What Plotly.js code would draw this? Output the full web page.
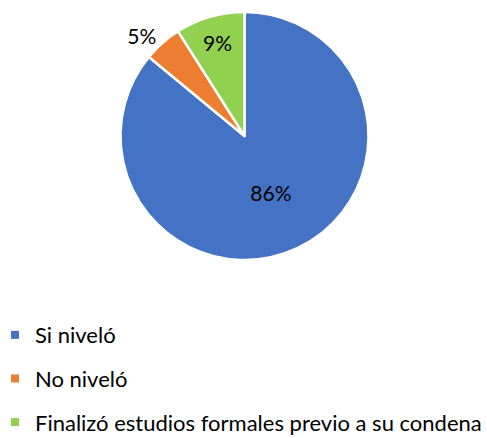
<!DOCTYPE html>
<html>
<head>
<meta charset="utf-8">
<script src="https://cdn.plot.ly/plotly-3.0.1.min.js"></script>
<style>html,body{margin:0;padding:0;background:#fff}#chart{width:487px;height:438px}</style>
</head>
<body>
<div id="chart"></div>
<script>
const labels = ["Si niveló", "No niveló", "Finalizó estudios formales previo a su condena"];
const values = [86, 5, 9];
const colors = ["#4472C4", "#ED7D31", "#92D050"];
const textPositions = ["inside", "outside", "inside"];

const FONT = "Lato, 'Open Sans', sans-serif";

const pie = {
  type: "pie",
  labels: labels,
  values: values,
  sort: false,
  direction: "clockwise",
  rotation: 0,
  marker: { colors: colors, line: { color: "#ffffff", width: 2.5 } },
  texttemplate: "%{percent:.0%}",
  textposition: textPositions,
  insidetextorientation: "horizontal",
  textfont: { family: FONT, size: 21, color: "#000000" },
  outsidetextfont: { family: FONT, size: 21, color: "#000000" },
  showlegend: false,
  automargin: false,
  domain: { x: [0.2474, 0.7567], y: [0.4064, 0.9726] },
  hoverinfo: "label+percent"
};

const legendTraces = labels.map((lab, i) => ({
  type: "scatter",
  mode: "markers",
  x: [null], y: [null],
  name: lab,
  legendgroup: "g" + i,
  marker: { symbol: "square", size: 8, color: colors[i] },
  showlegend: true,
  hoverinfo: "skip"
}));

const layout = {
  width: 487, height: 438,
  margin: { l: 0, r: 0, t: 0, b: 0, autoexpand: false },
  paper_bgcolor: "#ffffff",
  plot_bgcolor: "#ffffff",
  showlegend: true,
  xaxis: { visible: false, range: [0, 1] },
  yaxis: { visible: false, range: [0, 1] },
  legend: {
    x: 0, y: 0.283, xanchor: "left", yanchor: "top",
    orientation: "v",
    indentation: -5,
    tracegroupgap: 12,
    font: { family: FONT, size: 22, color: "#000000" },
    bgcolor: "rgba(0,0,0,0)"
  }
};

Plotly.newPlot("chart", [pie].concat(legendTraces), layout, { displayModeBar: false, staticPlot: true });
</script>
</body>
</html>
